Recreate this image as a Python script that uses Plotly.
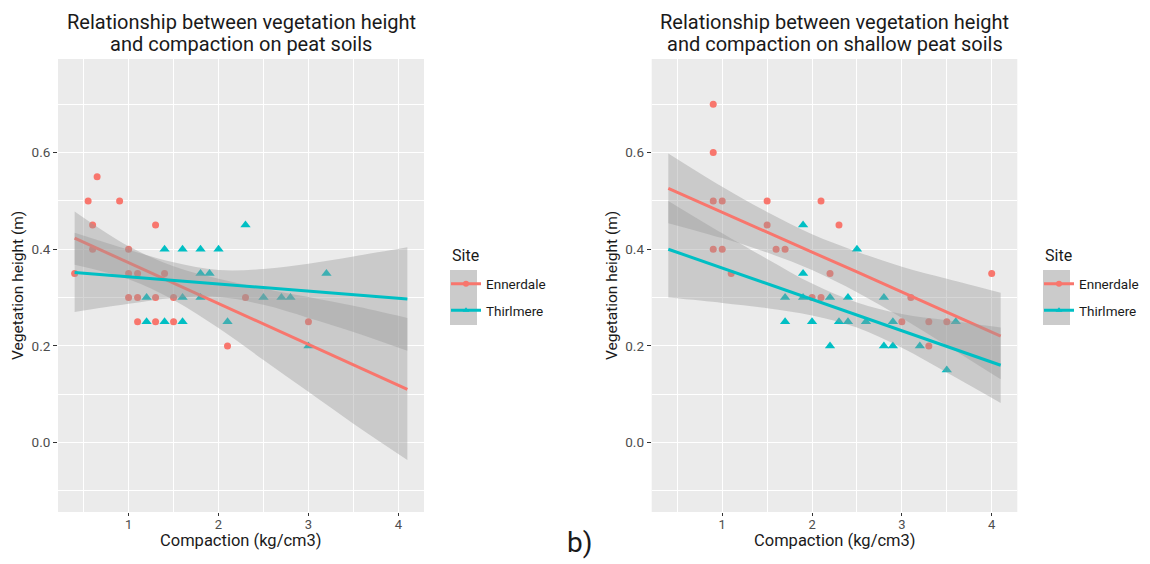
import plotly.graph_objects as go

W, H = 1150, 564

# ---------------- data: left panel (peat soils) ----------------
peat_enn_x = [0.4, 0.55, 0.6, 0.6, 0.65, 0.9, 1.0, 1.0, 1.0, 1.1, 1.1, 1.1,
              1.3, 1.3, 1.3, 1.4, 1.5, 1.5, 2.1, 2.3, 3.0]
peat_enn_y = [0.35, 0.5, 0.45, 0.4, 0.55, 0.5, 0.4, 0.35, 0.3, 0.35, 0.3, 0.25,
              0.45, 0.3, 0.25, 0.35, 0.3, 0.25, 0.2, 0.3, 0.25]
peat_thi_x = [1.4, 1.6, 1.8, 2.0, 2.3, 1.8, 1.9, 3.2, 1.2, 1.6, 1.8, 2.5, 2.7,
              2.8, 1.2, 1.4, 1.6, 2.1, 3.0]
peat_thi_y = [0.4, 0.4, 0.4, 0.4, 0.45, 0.35, 0.35, 0.35, 0.3, 0.3, 0.3, 0.3,
              0.3, 0.3, 0.25, 0.25, 0.25, 0.25, 0.2]

# ---------------- data: right panel (shallow peat soils) ----------------
shal_enn_x = [0.9, 0.9, 0.9, 1.0, 1.5, 2.1, 1.5, 2.3, 0.9, 1.0, 1.6, 1.7, 1.1,
              2.2, 4.0, 2.0, 2.1, 3.1, 3.0, 3.3, 3.5, 3.3]
shal_enn_y = [0.7, 0.6, 0.5, 0.5, 0.5, 0.5, 0.45, 0.45, 0.4, 0.4, 0.4, 0.4, 0.35,
              0.35, 0.35, 0.3, 0.3, 0.3, 0.25, 0.25, 0.25, 0.2]
shal_thi_x = [1.9, 2.5, 1.9, 1.7, 1.9, 2.2, 2.4, 2.8, 1.7, 2.0, 2.3, 2.4, 2.6,
              2.9, 3.6, 2.2, 2.8, 2.9, 3.2, 3.5]
shal_thi_y = [0.45, 0.4, 0.35, 0.3, 0.3, 0.3, 0.3, 0.3, 0.25, 0.25, 0.25, 0.25,
              0.25, 0.25, 0.25, 0.2, 0.2, 0.2, 0.2, 0.15]

# ---------------- fitted lines + 95% bands ----------------
fit_x = [0.4, 1.0, 1.5, 2.0, 2.5, 3.0, 3.5, 4.1]

peat_enn_fit = [0.423, 0.372, 0.330, 0.288, 0.245, 0.203, 0.161, 0.110]
peat_enn_lo = [0.368, 0.338, 0.295, 0.237, 0.171, 0.105, 0.039, -0.036]
peat_enn_hi = [0.478, 0.406, 0.365, 0.339, 0.319, 0.301, 0.283, 0.258]

peat_thi_fit = [0.352, 0.343, 0.336, 0.329, 0.322, 0.314, 0.307, 0.297]
peat_thi_lo = [0.270, 0.287, 0.299, 0.301, 0.285, 0.258, 0.229, 0.190]
peat_thi_hi = [0.434, 0.399, 0.373, 0.357, 0.359, 0.370, 0.385, 0.404]

shal_enn_fit = [0.526, 0.476, 0.435, 0.394, 0.353, 0.311, 0.270, 0.2205]
shal_enn_lo = [0.454, 0.423, 0.393, 0.357, 0.311, 0.258, 0.201, 0.131]
shal_enn_hi = [0.598, 0.529, 0.477, 0.431, 0.395, 0.364, 0.339, 0.310]

shal_thi_fit = [0.400, 0.361, 0.329, 0.296, 0.264, 0.231, 0.199, 0.160]
shal_thi_lo = [0.300, 0.289, 0.278, 0.263, 0.238, 0.196, 0.145, 0.082]
shal_thi_hi = [0.500, 0.433, 0.380, 0.329, 0.290, 0.266, 0.253, 0.238]

sites = ["Ennerdale", "Thirlmere"]
titles = [["Relationship between vegetation height", "and compaction on peat soils"],
          ["Relationship between vegetation height", "and compaction on shallow peat soils"]]
x_title = "Compaction (kg/cm3)"
y_title = "Vegetation height (m)"
x_ticks = [1, 2, 3, 4]
y_ticks = [0.0, 0.2, 0.4, 0.6]

# ---------------- style ----------------
RED = "#F8766D"
CYAN = "#00BFC4"
RIBBON = "rgba(153,153,153,0.4)"
FONT = "Roboto"
PANEL_BG = "#EBEBEB"

def px(x):
    return x / W

def py(y):
    return 1 - y / H

fig = go.Figure()

panels = [
    dict(xa="x", ya="y",
         enn=(peat_enn_x, peat_enn_y), thi=(peat_thi_x, peat_thi_y),
         efit=(peat_enn_fit, peat_enn_lo, peat_enn_hi),
         tfit=(peat_thi_fit, peat_thi_lo, peat_thi_hi), legend="legend"),
    dict(xa="x2", ya="y2",
         enn=(shal_enn_x, shal_enn_y), thi=(shal_thi_x, shal_thi_y),
         efit=(shal_enn_fit, shal_enn_lo, shal_enn_hi),
         tfit=(shal_thi_fit, shal_thi_lo, shal_thi_hi), legend="legend2"),
]

for p in panels:
    xa, ya = p["xa"], p["ya"]
    # points
    fig.add_trace(go.Scatter(x=p["enn"][0], y=p["enn"][1], mode="markers", xaxis=xa, yaxis=ya,
                             marker=dict(symbol="circle", size=7, color=RED, line=dict(width=0)),
                             showlegend=False, hoverinfo="skip"))
    fig.add_trace(go.Scatter(x=p["thi"][0], y=p["thi"][1], mode="markers", xaxis=xa, yaxis=ya,
                             marker=dict(symbol="triangle-up", size=9, color=CYAN, line=dict(width=0)),
                             showlegend=False, hoverinfo="skip"))
    # smooths: ribbon then line per group
    for (fit, lo, hi), col in [(p["efit"], RED), (p["tfit"], CYAN)]:
        fig.add_trace(go.Scatter(x=fit_x, y=lo, mode="lines", xaxis=xa, yaxis=ya,
                                 line=dict(width=0, shape="spline", color=RIBBON),
                                 showlegend=False, hoverinfo="skip"))
        fig.add_trace(go.Scatter(x=fit_x, y=hi, mode="lines", xaxis=xa, yaxis=ya,
                                 line=dict(width=0, shape="spline", color=RIBBON),
                                 fill="tonexty", fillcolor=RIBBON,
                                 showlegend=False, hoverinfo="skip"))
        fig.add_trace(go.Scatter(x=fit_x, y=fit, mode="lines", xaxis=xa, yaxis=ya,
                                 line=dict(width=3, color=col),
                                 showlegend=False, hoverinfo="skip"))
    # legend entries
    for name, col, sym, grp in [(sites[0], RED, "circle", "a"), (sites[1], CYAN, "triangle-up", "b")]:
        fig.add_trace(go.Scatter(x=[None], y=[None], mode="lines+markers", xaxis=xa, yaxis=ya,
                                 name=name, legendgroup=grp, legend=p["legend"],
                                 line=dict(width=3, color=col),
                                 marker=dict(symbol=sym, size=6, color=col)))

axis_common = dict(range=[0.215, 4.285], tickvals=x_ticks, ticks="outside", ticklen=3,
                   tickwidth=1.1, tickcolor="#333333", showgrid=True, gridcolor="white",
                   gridwidth=1.3, zeroline=False, showline=False, automargin=False,
                   ticklabelstandoff=-3,
                   tickfont=dict(family=FONT, size=13, color="#4D4D4D"),
                   minor=dict(dtick=0.5, tick0=0, showgrid=True, gridcolor="white",
                              gridwidth=0.6, ticks=""))
yaxis_common = dict(range=[-0.1435, 0.7935], tickvals=y_ticks, ticks="outside", ticklen=4,
                    tickwidth=1.1, tickcolor="#333333", showgrid=True, gridcolor="white",
                    gridwidth=1.3, zeroline=False, showline=False, tickformat=".1f",
                    automargin=False,
                    tickfont=dict(family=FONT, size=13.5, color="#4D4D4D"),
                    minor=dict(dtick=0.1, tick0=0, showgrid=True, gridcolor="white",
                               gridwidth=0.6, ticks=""))

ytop, ybot = py(59), py(512)
fig.update_layout(
    width=W, height=H,
    autosize=False,
    margin=dict(l=0, r=0, t=0, b=0, pad=0, autoexpand=False),
    paper_bgcolor="white",
    plot_bgcolor=PANEL_BG,
    font=dict(family=FONT, color="#1A1A1A"),
    xaxis=dict(domain=[px(58), px(424)], anchor="y", **axis_common),
    yaxis=dict(domain=[ybot, ytop], anchor="x", **yaxis_common),
    xaxis2=dict(domain=[px(651.7), px(1017.3)], anchor="y2", **axis_common),
    yaxis2=dict(domain=[ybot, ytop], anchor="x2", **yaxis_common),
    legend=dict(x=px(446), y=py(268.5), xanchor="left", yanchor="top",
                bgcolor="rgba(0,0,0,0)", traceorder="grouped", tracegroupgap=6,
                font=dict(family=FONT, size=13.5, color="#1A1A1A")),
    legend2=dict(x=px(1039), y=py(268.5), xanchor="left", yanchor="top",
                 bgcolor="rgba(0,0,0,0)", traceorder="grouped", tracegroupgap=6,
                 font=dict(family=FONT, size=13.5, color="#1A1A1A")),
)

# grey legend key backgrounds
for x0 in (450, 1043):
    fig.add_shape(type="rect", xref="paper", yref="paper",
                  x0=px(x0), x1=px(x0 + 27), y0=py(325), y1=py(270),
                  fillcolor="#CBCBCB", line=dict(width=0), layer="above")

annotations = []
for cx, (l1, l2), ytx, legx in [(241, titles[0], 18, 450), (834.5, titles[1], 612, 1043)]:
    annotations.append(dict(x=px(cx), y=py(22), text=l1, showarrow=False, xref="paper", yref="paper",
                            xanchor="center", yanchor="middle",
                            font=dict(family=FONT, size=20, color="#1A1A1A")))
    annotations.append(dict(x=px(cx), y=py(44), text=l2, showarrow=False, xref="paper", yref="paper",
                            xanchor="center", yanchor="middle",
                            font=dict(family=FONT, size=20, color="#1A1A1A")))
    annotations.append(dict(x=px(cx), y=py(540), text=x_title, showarrow=False, xref="paper",
                            yref="paper", xanchor="center", yanchor="middle",
                            font=dict(family=FONT, size=16.5, color="#1A1A1A")))
    annotations.append(dict(x=px(ytx), y=py(286), text=y_title, showarrow=False, xref="paper",
                            yref="paper", xanchor="center", yanchor="middle", textangle=-90,
                            font=dict(family=FONT, size=15.5, color="#1A1A1A")))
    annotations.append(dict(x=px(legx), y=py(255), text="Site", showarrow=False, xref="paper",
                            yref="paper", xanchor="left", yanchor="middle",
                            font=dict(family=FONT, size=16, color="#1A1A1A")))
annotations.append(dict(x=px(579), y=py(542), text="b)", showarrow=False, xref="paper", yref="paper",
                        xanchor="center", yanchor="middle",
                        font=dict(family=FONT, size=28, color="#1A1A1A")))
fig.update_layout(annotations=annotations)

fig.write_html("out.html", config={"displayModeBar": False},
               post_script="document.body.style.margin='0';")
